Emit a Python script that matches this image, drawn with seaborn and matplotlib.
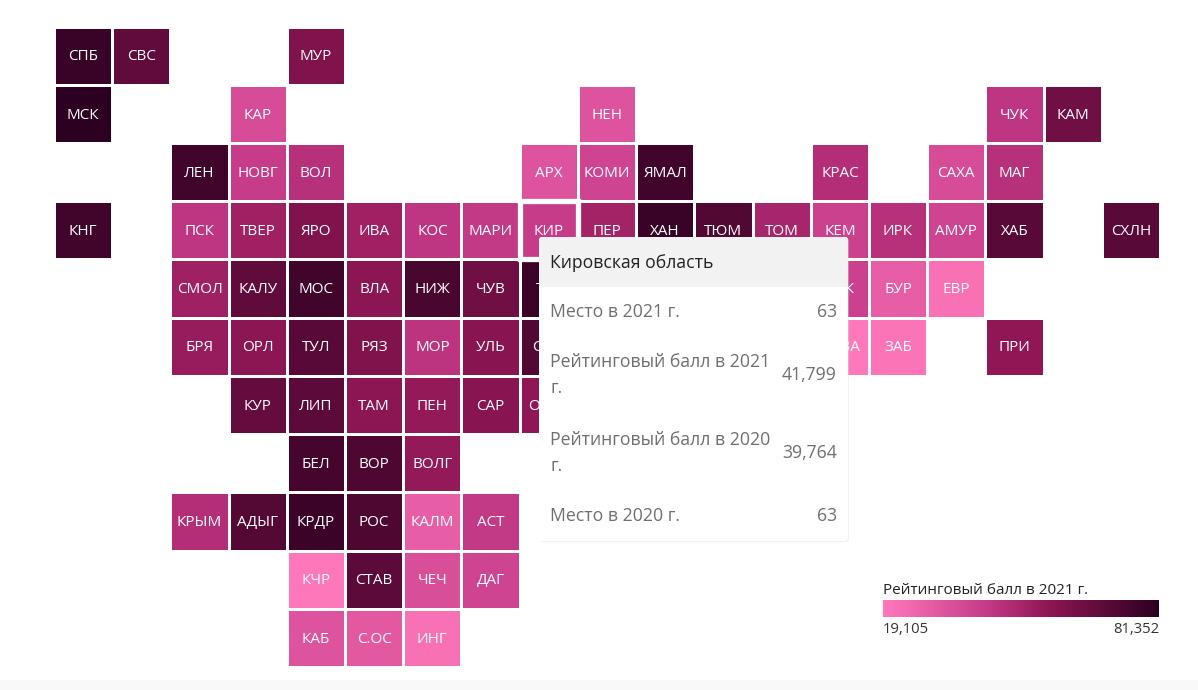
import numpy as np
import pandas as pd
import seaborn as sns
import matplotlib.pyplot as plt
from matplotlib.colors import LinearSegmentedColormap
from matplotlib.patches import Rectangle, FancyBboxPatch

plt.rcParams['font.family'] = ['Open Sans', 'DejaVu Sans']

# tile map: region code, grid row, grid column, score
regions = ['СПБ', 'СВС', 'МУР',
           'МСК', 'КАР', 'НЕН', 'ЧУК', 'КАМ',
           'ЛЕН', 'НОВГ', 'ВОЛ', 'АРХ', 'КОМИ', 'ЯМАЛ', 'КРАС', 'САХА', 'МАГ',
           'КНГ', 'ПСК', 'ТВЕР', 'ЯРО', 'ИВА', 'КОС', 'МАРИ', 'КИР', 'ПЕР', 'ХАН', 'ТЮМ', 'ТОМ', 'КЕМ', 'ИРК', 'АМУР', 'ХАБ', 'СХЛН',
           'СМОЛ', 'КАЛУ', 'МОС', 'ВЛА', 'НИЖ', 'ЧУВ', 'ТАТ', 'УДМ', 'СВЕР', 'ЧЕЛ', 'ОМСК', 'НСК', 'БУР', 'ЕВР',
           'БРЯ', 'ОРЛ', 'ТУЛ', 'РЯЗ', 'МОР', 'УЛЬ', 'САМ', 'БАШ', 'КУРГ', 'АЛТ', 'ХАК', 'ТЫВА', 'ЗАБ', 'ПРИ',
           'КУР', 'ЛИП', 'ТАМ', 'ПЕН', 'САР', 'ОРЕН',
           'БЕЛ', 'ВОР', 'ВОЛГ',
           'КРЫМ', 'АДЫГ', 'КРДР', 'РОС', 'КАЛМ', 'АСТ',
           'КЧР', 'СТАВ', 'ЧЕЧ', 'ДАГ',
           'КАБ', 'С.ОС', 'ИНГ']
rows = [0]*3 + [1]*5 + [2]*9 + [3]*17 + [4]*14 + [5]*14 + [6]*6 + [7]*3 + [8]*6 + [9]*4 + [10]*3
cols = [0, 1, 4,
        0, 3, 9, 16, 17,
        2, 3, 4, 8, 9, 10, 13, 15, 16,
        0, 2, 3, 4, 5, 6, 7, 8, 9, 10, 11, 12, 13, 14, 15, 16, 18,
        2, 3, 4, 5, 6, 7, 8, 9, 10, 11, 12, 13, 14, 15,
        2, 3, 4, 5, 6, 7, 8, 9, 10, 11, 12, 13, 14, 16,
        3, 4, 5, 6, 7, 8,
        4, 5, 6,
        2, 3, 4, 5, 6, 7,
        4, 5, 6, 7,
        4, 5, 6]
scores = [78000, 68000, 60000,
          81352, 36000, 33000, 44000, 64000,
          76000, 42000, 46000, 33000, 39000, 76000, 47000, 36000, 46000,
          76000, 44000, 52000, 60000, 52000, 44000, 43000, 41799, 51000, 78000, 72000, 50000, 40000, 46000, 39000, 70000, 70000,
          52000, 68000, 76000, 57000, 74000, 64000, 77000, 55000, 68000, 62000, 50000, 40000, 29000, 22000,
          54000, 57000, 70000, 60000, 45000, 58000, 72000, 62000, 45000, 44000, 38000, 19105, 21000, 56000,
          67000, 69000, 57000, 55000, 58000, 56000,
          75000, 73000, 55000,
          47000, 71000, 77000, 73000, 29000, 43000,
          19500, 69000, 35000, 39000,
          33000, 31000, 22000]

tooltip_title = 'Кировская область'
tooltip_rows = [('Место в 2021 г.', '63', 312),
                ('Рейтинговый балл в 2021\nг.', '41,799', 375),
                ('Рейтинговый балл в 2020\nг.', '39,764', 453),
                ('Место в 2020 г.', '63', 516)]

df = pd.DataFrame({'region': regions, 'row': rows, 'col': cols, 'score': scores})
grid = df.pivot(index='row', columns='col', values='score').reindex(index=range(11), columns=range(19))
names = df.pivot(index='row', columns='col', values='region').reindex(index=range(11), columns=range(19)).fillna('')

cmap = LinearSegmentedColormap.from_list('pinks', [(0, '#ff78bb'), (0.36, '#c83d8a'), (0.6, '#8e1554'), (1, '#2c0020')])
W, H = 1198, 690


def px_box(x0, y0, x1, y1):
    return [x0/W, 1 - y1/H, (x1 - x0)/W, (y1 - y0)/H]


fig = plt.figure(figsize=(W/100, H/100), dpi=100)
ax = fig.add_axes(px_box(54, 26.5, 1160, 667))
cax = fig.add_axes(px_box(883, 600, 1159, 617))

sns.heatmap(grid, ax=ax, cmap=cmap, vmin=19105, vmax=81352, mask=grid.isna(),
            annot=names, fmt='', annot_kws={'color': 'white', 'fontsize': 11},
            linewidths=0.9, linecolor='white', cbar_ax=cax,
            cbar_kws={'orientation': 'horizontal'})
ax.set(xlabel='', ylabel='', xticks=[], yticks=[])
for t in ax.texts:
    x, y = t.get_position()
    t.set_position((x, y + 0.02))

# hovered tile gets a thick white outline
ax.add_patch(Rectangle((8, 3), 1, 1, fill=False, edgecolor='white', linewidth=3.8, zorder=3))

cbar = ax.collections[0].colorbar
cbar.set_ticks([])
cbar.outline.set_visible(False)
cax.text(0, 1.1, 'Рейтинговый балл в 2021 г.', transform=cax.transAxes, fontsize=11, color='#222222', va='bottom')
cax.text(0, -0.3, '19,105', transform=cax.transAxes, fontsize=10.7, color='#333333', va='top')
cax.text(1, -0.3, '81,352', transform=cax.transAxes, fontsize=10.7, color='#333333', va='top', ha='right')

# overlay in pixel coordinates for the tooltip
over = fig.add_axes([0, 0, 1, 1], zorder=5)
over.set_xlim(0, W)
over.set_ylim(H, 0)
over.axis('off')
over.patch.set_alpha(0)
over.add_patch(Rectangle((0, 680), W, 10, facecolor='#f9f9f9', edgecolor='none'))
over.add_patch(FancyBboxPatch((540, 238), 309, 304, boxstyle='round,pad=0,rounding_size=3', facecolor='#dddddd', edgecolor='none', alpha=0.4))
over.add_patch(FancyBboxPatch((539, 237), 309, 304, boxstyle='round,pad=0,rounding_size=3', facecolor='white', edgecolor='none'))
over.add_patch(FancyBboxPatch((539, 237), 309, 50, boxstyle='round,pad=0,rounding_size=3', facecolor='#f2f2f2', edgecolor='none'))
over.add_patch(Rectangle((539, 275), 309, 12, facecolor='#f2f2f2', edgecolor='none'))
over.text(550, 263, tooltip_title, fontsize=12.7, color='#222222', va='center')
for label, value, y in tooltip_rows:
    over.text(550, y, label, fontsize=12.7, color='#6f6f6f', va='center', linespacing=1.6)
    over.text(837, y, value, fontsize=12.7, color='#6f6f6f', va='center', ha='right')

fig.savefig('out.png', dpi=100)
